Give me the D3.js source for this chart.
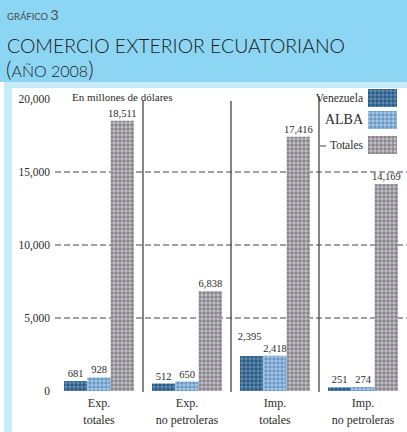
<!DOCTYPE html>
<meta charset="utf-8">
<style>
body { margin: 0; background: #fff; }
.tick-lbl, .val, .cat, .leg, .note { font-family: "Liberation Serif", "DejaVu Serif", serif; fill: #2a2a2a; }
.head { font-family: "Lato", "Open Sans", sans-serif; fill: #1a1a1a; }
</style>
<body>
<script src="https://d3js.org/d3.v7.min.js"></script>
<script>

// data (millones de dólares)
const categories = ["Exp. totales", "Exp. no petroleras", "Imp. totales", "Imp. no petroleras"];
const catLine1 = ["Exp.", "Exp.", "Imp.", "Imp."];
const catLine2 = ["totales", "no petroleras", "totales", "no petroleras"];
const seriesNames = ["Venezuela", "ALBA", "Totales"];
const venezuela = [681, 512, 2395, 251];
const alba = [928, 650, 2418, 274];
const totales = [18511, 6838, 17416, 14169];
const yTicks = [0, 5000, 10000, 15000, 20000];

const W = 407, H = 432;
const svg = d3.select("body").append("svg").attr("width", W).attr("height", H);

// fill textures
const defs = svg.append("defs");
function pat(id, base, dot, dot2) {
   const p = defs.append("pattern").attr("id", id).attr("width", 4).attr("height", 4)
      .attr("patternUnits", "userSpaceOnUse");
   p.append("rect").attr("width", 4).attr("height", 4).attr("fill", base);
   p.append("rect").attr("x", 0).attr("y", 0).attr("width", 2).attr("height", 2).attr("fill", dot);
   p.append("rect").attr("x", 2).attr("y", 2).attr("width", 2).attr("height", 2).attr("fill", dot2);
}
pat("p-ven", "#41719a", "#2f5d84", "#5d8aaf");
pat("p-alba", "#86afd6", "#a3c4e3", "#6d98c4");
pat("p-tot", "#a59c9f", "#8e868a", "#b3c3d2");
const fills = ["url(#p-ven)", "url(#p-alba)", "url(#p-tot)"];

// background: header band + light strip
svg.append("rect").attr("x", 0).attr("y", 0).attr("width", W).attr("height", 82).attr("fill", "#8dd6f3");
svg.append("rect").attr("x", 4).attr("y", 82).attr("width", W - 4).attr("height", 6).attr("fill", "#c8ebf8");
svg.append("rect").attr("x", 4).attr("y", 88).attr("width", 8).attr("height", H - 88).attr("fill", "#c8ebf8");

// header text
const g1 = svg.append("text").attr("class", "head").attr("x", 7).attr("y", 20).style("fill", "#4a4a4a");
g1.append("tspan").attr("font-size", 9.5).text("GRÁFICO ");
g1.append("tspan").attr("font-size", 14).text("3");
svg.append("text").attr("class", "head").attr("x", 7).attr("y", 53)
   .attr("font-size", 19.5).attr("font-weight", 300).attr("textLength", 338).attr("lengthAdjust", "spacingAndGlyphs")
   .text("COMERCIO EXTERIOR ECUATORIANO");
const g3 = svg.append("text").attr("class", "head").attr("x", 6).attr("y", 77).attr("font-weight", 300);
g3.append("tspan").attr("font-size", 21).text("(");
g3.append("tspan").attr("font-size", 16).text("AÑO 2008");
g3.append("tspan").attr("font-size", 21).text(")");

// scales
const x0 = d3.scaleBand().domain(categories).range([55, 407]);
const x1 = d3.scaleBand().domain(seriesNames).range([9, 79]);
const y = d3.scaleLinear().domain([0, 20000]).range([391, 99]);

// dashed grid
svg.append("g").selectAll("line").data(yTicks.filter(d => d > 0 && d < 20000)).join("line")
   .attr("x1", 55).attr("x2", W).attr("y1", d => y(d)).attr("y2", d => y(d))
   .attr("stroke", "#444").attr("stroke-width", 1).attr("stroke-dasharray", "6,3");

// y labels
svg.append("g").selectAll("text").data(yTicks).join("text")
   .attr("class", "tick-lbl").attr("x", 50).attr("y", d => y(d) + 4)
   .attr("text-anchor", "end").attr("font-size", 11.5)
   .text(d => d === 0 ? "0" : d3.format(",")(d));

// group separators
svg.append("g").selectAll("line").data(categories.slice(0, 3)).join("line")
   .attr("x1", d => x0(d) + x0.bandwidth()).attr("x2", d => x0(d) + x0.bandwidth())
   .attr("y1", (d, i) => i === 2 ? 96 : 101).attr("y2", y(0) + 1)
   .attr("stroke", "#444").attr("stroke-width", 1.3);

// bars
const rows = categories.map((c, i) => ({ cat: c, vals: [venezuela[i], alba[i], totales[i]] }));
const groups = svg.append("g").selectAll("g").data(rows).join("g")
   .attr("transform", d => `translate(${x0(d.cat)},0)`);
groups.selectAll("rect").data(d => d.vals.map((v, j) => ({ s: seriesNames[j], v: v, j: j }))).join("rect")
   .attr("x", d => x1(d.s)).attr("width", x1.bandwidth())
   .attr("y", d => y(d.v)).attr("height", d => y(0) - y(d.v))
   .attr("fill", d => fills[d.j]);

// value labels
const fmt = d3.format(",");
groups.selectAll("text.val").data((d, i) => d.vals.map((v, j) => ({ s: seriesNames[j], v: v, i: i, j: j }))).join("text")
   .attr("class", "val").attr("font-size", 10.5).attr("text-anchor", "middle")
   .attr("x", d => x1(d.s) + x1.bandwidth() / 2 + (d.i === 2 && d.j === 0 ? -2 : 0))
   .attr("y", d => y(d.v) - (d.i === 2 && d.j === 0 ? 16 : 4))
   .text(d => d.v < 1000 ? d.v : fmt(d.v));

// category labels
groups.append("text").attr("class", "cat").attr("x", 44).attr("y", 407)
   .attr("text-anchor", "middle").attr("font-size", 12).text((d, i) => catLine1[i]);
groups.append("text").attr("class", "cat").attr("x", 44).attr("y", 424)
   .attr("text-anchor", "middle").attr("font-size", 12).text((d, i) => catLine2[i]);

// unit note
svg.append("text").attr("class", "note").attr("x", 72).attr("y", 101)
   .attr("font-size", 11).text("En millones de dólares");

// legend
const legY = [89, 111, 136];
const leg = svg.append("g").selectAll("g").data(seriesNames).join("g");
leg.append("rect").attr("x", 368).attr("y", (d, i) => legY[i]).attr("width", 29).attr("height", 18)
   .attr("fill", (d, i) => fills[i]);
leg.append("text").attr("class", "leg").attr("x", 363).attr("y", (d, i) => legY[i] + 13)
   .attr("text-anchor", "end").attr("font-size", (d, i) => i === 1 ? 14 : 11.5).text(d => d);
svg.append("line").attr("x1", 320).attr("x2", 326).attr("y1", 146).attr("y2", 146).attr("stroke", "#444");

</script>
</body>
</html>
